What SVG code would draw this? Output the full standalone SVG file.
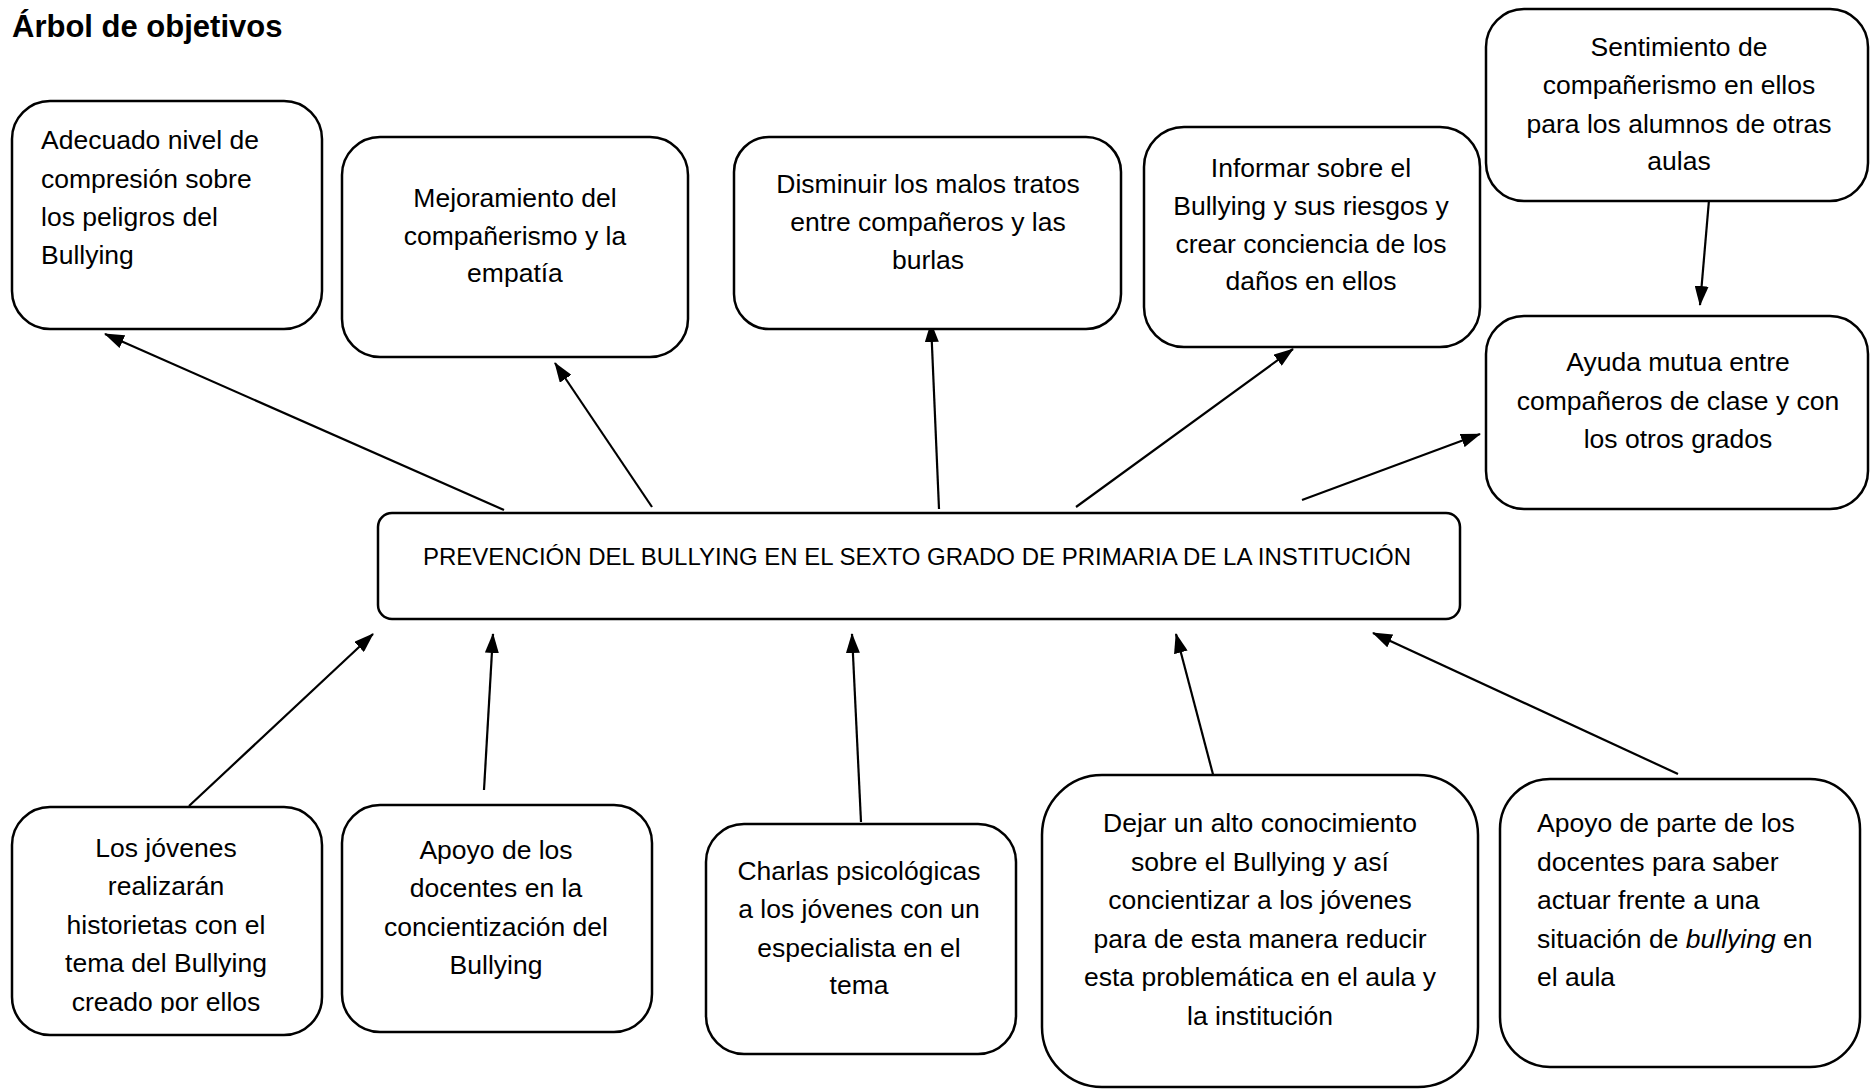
<svg xmlns="http://www.w3.org/2000/svg" width="1872" height="1089" viewBox="0 0 1872 1089">
<defs>
<style>
.box{fill:#fff;stroke:#000;stroke-width:2.5}
.t{font-family:"Liberation Sans",Arial,sans-serif;font-size:26.5px;fill:#000}
.c{text-anchor:middle}
.title{font-family:"Liberation Sans",Arial,sans-serif;font-size:31px;font-weight:bold;fill:#000}
.ctr{font-family:"Liberation Sans",Arial,sans-serif;font-size:24px;fill:#000;text-anchor:middle}
.arr{stroke:#000;stroke-width:2.2;fill:none;marker-end:url(#ah)}
</style>
<marker id="ah" markerUnits="userSpaceOnUse" markerWidth="20" markerHeight="14" refX="19" refY="7" orient="auto">
<path d="M0,0 L20,7 L0,14 z" fill="#000"/>
</marker>
<clipPath id="clip1"><rect x="0" y="0" width="400" height="1013"/></clipPath>
</defs>
<rect width="1872" height="1089" fill="#fff"/>
<text class="title" x="12" y="37">Árbol de objetivos</text>

<g id="connectors">
<line class="arr" x1="504" y1="510" x2="105" y2="334"/>
<line class="arr" x1="652" y1="507" x2="555" y2="363"/>
<line class="arr" x1="939" y1="509" x2="931" y2="323"/>
<line class="arr" x1="1076" y1="507" x2="1293" y2="349"/>
<line class="arr" x1="1302" y1="500" x2="1480" y2="434"/>
<line class="arr" x1="1709" y1="200" x2="1700" y2="305"/>
<line class="arr" x1="189" y1="806" x2="373" y2="634"/>
<line class="arr" x1="484" y1="790" x2="493" y2="634"/>
<line class="arr" x1="861" y1="822" x2="852" y2="634"/>
<line class="arr" x1="1215" y1="782" x2="1176" y2="634"/>
<line class="arr" x1="1678" y1="774" x2="1373" y2="633"/>
</g>

<g id="n-adecuado">
<rect class="box" x="12" y="101" width="310" height="228" rx="38"/>
<text class="t" x="41" y="149">Adecuado nivel de</text>
<text class="t" x="41" y="188">compresión sobre</text>
<text class="t" x="41" y="226">los peligros del</text>
<text class="t" x="41" y="264">Bullying</text>
</g>

<g id="n-mejoramiento">
<rect class="box" x="342" y="137" width="346" height="220" rx="38"/>
<text class="t c" x="515" y="207">Mejoramiento del</text>
<text class="t c" x="515" y="245">compañerismo y la</text>
<text class="t c" x="515" y="282">empatía</text>
</g>

<g id="n-disminuir">
<rect class="box" x="734" y="137" width="387" height="192" rx="35"/>
<text class="t c" x="928" y="193">Disminuir los malos tratos</text>
<text class="t c" x="928" y="231">entre compañeros y las</text>
<text class="t c" x="928" y="269">burlas</text>
</g>

<g id="n-informar">
<rect class="box" x="1144" y="127" width="336" height="220" rx="40"/>
<text class="t c" x="1311" y="177">Informar sobre el</text>
<text class="t c" x="1311" y="215">Bullying y sus riesgos y</text>
<text class="t c" x="1311" y="253">crear conciencia de los</text>
<text class="t c" x="1311" y="290">daños en ellos</text>
</g>

<g id="n-sentimiento">
<rect class="box" x="1486" y="9" width="382" height="192" rx="38"/>
<text class="t c" x="1679" y="56">Sentimiento de</text>
<text class="t c" x="1679" y="94">compañerismo en ellos</text>
<text class="t c" x="1679" y="133">para los alumnos de otras</text>
<text class="t c" x="1679" y="170">aulas</text>
</g>

<g id="n-ayuda">
<rect class="box" x="1486" y="316" width="382" height="193" rx="38"/>
<text class="t c" x="1678" y="371">Ayuda mutua entre</text>
<text class="t c" x="1678" y="410">compañeros de clase y con</text>
<text class="t c" x="1678" y="448">los otros grados</text>
</g>

<g id="n-central">
<rect class="box" x="378" y="513" width="1082" height="106" rx="14"/>
<text class="ctr" x="917" y="565">PREVENCIÓN DEL BULLYING EN EL SEXTO GRADO DE PRIMARIA DE LA INSTITUCIÓN</text>
</g>

<g id="n-jovenes">
<rect class="box" x="12" y="807" width="310" height="228" rx="38"/>
<g clip-path="url(#clip1)">
<text class="t c" x="166" y="857">Los jóvenes</text>
<text class="t c" x="166" y="895">realizarán</text>
<text class="t c" x="166" y="934">historietas con el</text>
<text class="t c" x="166" y="972">tema del Bullying</text>
<text class="t c" x="166" y="1011">creado por ellos</text>
</g>
</g>

<g id="n-apoyo">
<rect class="box" x="342" y="805" width="310" height="227" rx="38"/>
<text class="t c" x="496" y="859">Apoyo de los</text>
<text class="t c" x="496" y="897">docentes en la</text>
<text class="t c" x="496" y="936">concientización del</text>
<text class="t c" x="496" y="974">Bullying</text>
</g>

<g id="n-charlas">
<rect class="box" x="706" y="824" width="310" height="230" rx="38"/>
<text class="t c" x="859" y="880">Charlas psicológicas</text>
<text class="t c" x="859" y="918">a los jóvenes con un</text>
<text class="t c" x="859" y="957">especialista en el</text>
<text class="t c" x="859" y="994">tema</text>
</g>

<g id="n-dejar">
<rect class="box" x="1042" y="775" width="436" height="312" rx="60"/>
<text class="t c" x="1260" y="832">Dejar un alto conocimiento</text>
<text class="t c" x="1260" y="871">sobre el Bullying y así</text>
<text class="t c" x="1260" y="909">concientizar a los jóvenes</text>
<text class="t c" x="1260" y="948">para de esta manera reducir</text>
<text class="t c" x="1260" y="986">esta problemática en el aula y</text>
<text class="t c" x="1260" y="1025">la institución</text>
</g>

<g id="n-apoyo-parte">
<rect class="box" x="1500" y="779" width="360" height="288" rx="50"/>
<text class="t" x="1537" y="832">Apoyo de parte de los</text>
<text class="t" x="1537" y="871">docentes para saber</text>
<text class="t" x="1537" y="909">actuar frente a una</text>
<text class="t" x="1537" y="948">situación de <tspan font-style="italic">bullying</tspan> en</text>
<text class="t" x="1537" y="986">el aula</text>
</g>
</svg>
